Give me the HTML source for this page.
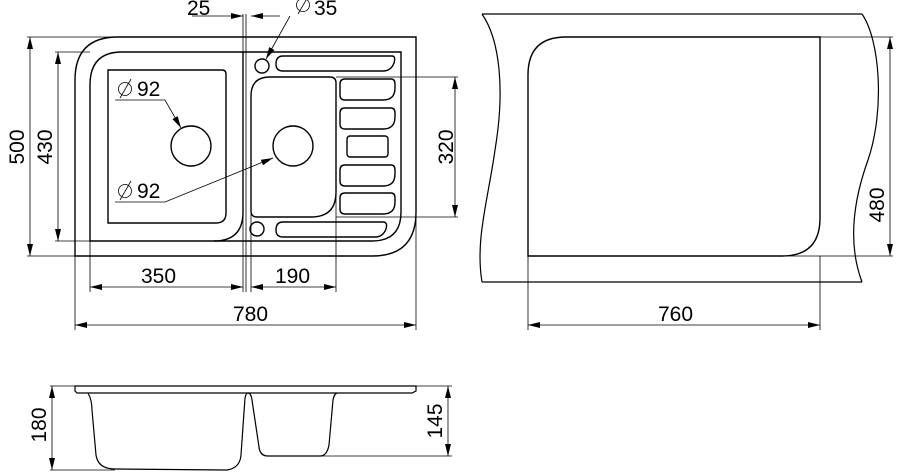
<!DOCTYPE html>
<html><head><meta charset="utf-8"><style>
html,body{margin:0;padding:0;background:#fff;}
svg{display:block;}
text{font-family:"Liberation Sans",Arial,sans-serif;font-size:21px;fill:#000;}
</style></head><body>
<svg width="900" height="476" viewBox="0 0 900 476" xmlns="http://www.w3.org/2000/svg">
<defs>
<marker id="a" viewBox="0 0 12 6" refX="12" refY="3" markerWidth="12" markerHeight="6" orient="auto-start-reverse" markerUnits="userSpaceOnUse"><path d="M0,0 L12,3 L0,6 Z" fill="#000"/></marker>
</defs>
<g fill="none" stroke="#000" stroke-width="1.4">
<path d="M75,256 L75,80 Q75,37 118,37 L416,37 L416,212 Q416,256 372,256 Z"/>
<path d="M90,241 L90,85 Q90,52 122,52 L401,52 L401,212 Q401,241 372,241 Z"/>
<path d="M243,52 L243,212 Q243,241 214,241"/>
<path d="M108,70 L222,70 Q226,70 226,74 L226,213 Q226,223 216,223 L108,223 Z"/>
<path d="M270,77 L330,77 Q336,77 336,83 L336,192 Q336,217 311,217 L257,217 Q251,217 251,211 L251,96 Q251,77 270,77 Z"/>
<circle cx="191" cy="146" r="20"/>
<circle cx="293" cy="146" r="20"/>
<circle cx="262" cy="66" r="7"/>
<circle cx="257" cy="229" r="7"/>
<path d="M283,56 L392,56 Q396,56 394,63 Q391,71 383,71 L283,71 Q276,71 276,64 Q276,56 283,56 Z"/>
<path d="M283,222 L383,222 Q388,222 386,229 Q383,237 375,237 L283,237 Q276,237 276,230 Q276,222 283,222 Z"/>
<path d="M345,79 L391,79 Q395,79 395,84 L395,88 Q395,100 383,100 L345,100 Q340,100 340,95 L340,84 Q340,79 345,79 Z"/>
<path d="M345,108 L391,108 Q395,108 395,113 L395,117 Q395,129 383,129 L345,129 Q340,129 340,124 L340,113 Q340,108 345,108 Z"/>
<rect x="347" y="136" width="41" height="21" rx="3"/>
<path d="M345,165 L391,165 Q395,165 395,170 L395,174 Q395,186 383,186 L345,186 Q340,186 340,181 L340,170 Q340,165 345,165 Z"/>
<path d="M345,193 L391,193 Q395,193 395,198 L395,202 Q395,214 383,214 L345,214 Q340,214 340,209 L340,198 Q340,193 345,193 Z"/>
</g>
<g fill="none" stroke="#000" stroke-width="0.8">
<line x1="27" y1="37" x2="118" y2="37"/>
<line x1="27" y1="256" x2="75" y2="256"/>
<line x1="55" y1="52" x2="90" y2="52"/>
<line x1="55" y1="241" x2="90" y2="241"/>
<line x1="75" y1="256" x2="75" y2="330"/>
<line x1="416" y1="37" x2="416" y2="330"/>
<line x1="90" y1="241" x2="90" y2="292"/>
<line x1="243" y1="14" x2="243" y2="292"/>
<line x1="246" y1="14" x2="246" y2="292"/>
<line x1="251" y1="211" x2="251" y2="292"/>
<line x1="336" y1="192" x2="336" y2="292"/>
<line x1="336" y1="77" x2="458" y2="77"/>
<line x1="336" y1="217" x2="458" y2="217"/>
<line x1="30" y1="37" x2="30" y2="256" marker-start="url(#a)" marker-end="url(#a)"/>
<line x1="58" y1="52" x2="58" y2="241" marker-start="url(#a)" marker-end="url(#a)"/>
<line x1="90" y1="287" x2="243" y2="287" marker-start="url(#a)" marker-end="url(#a)"/>
<line x1="251" y1="287" x2="336" y2="287" marker-start="url(#a)" marker-end="url(#a)"/>
<line x1="75" y1="325" x2="416" y2="325" marker-start="url(#a)" marker-end="url(#a)"/>
<line x1="455" y1="77" x2="455" y2="217" marker-start="url(#a)" marker-end="url(#a)"/>
<line x1="192" y1="16" x2="243" y2="16" marker-end="url(#a)"/>
<line x1="280" y1="16" x2="251" y2="16" marker-end="url(#a)"/>
<line x1="290" y1="16" x2="266" y2="59" marker-end="url(#a)"/>
<polyline points="115,100 165,100 181,128" marker-end="url(#a)"/>
<polyline points="115,202 165,202 273,158" marker-end="url(#a)"/>
<!-- diameter symbols -->
<circle cx="125" cy="89" r="6.5"/><line x1="120" y1="98" x2="131" y2="79"/>
<circle cx="125" cy="191" r="6.5"/><line x1="120" y1="200" x2="131" y2="181"/>
<circle cx="303" cy="5" r="6.5"/><line x1="298" y1="14" x2="309" y2="-5"/>
</g>
<g>
<text x="187" y="15">25</text>
<text x="314" y="15">35</text>
<text x="137" y="96">92</text>
<text x="137" y="198">92</text>
<text x="141" y="283">350</text>
<text x="275" y="283">190</text>
<text x="233" y="321">780</text>
<text transform="translate(24,147) rotate(-90)" text-anchor="middle">500</text>
<text transform="translate(52,147) rotate(-90)" text-anchor="middle">430</text>
<text transform="translate(453,147) rotate(-90)" text-anchor="middle">320</text>
</g>
<g fill="none" stroke="#000" stroke-width="1.2">
<line x1="482" y1="14" x2="862" y2="14"/>
<line x1="482" y1="282" x2="862" y2="282"/>
<path d="M482,14 C500,40 505,90 495,150 C488,200 475,240 482,282"/>
<path d="M862,14 C880,40 885,110 868,160 C850,210 850,250 862,282"/>
<path d="M528,256 L528,75 Q528,37 566,37 L820,37 L820,218 Q820,256 782,256 Z" stroke-width="1.4"/>
</g>
<g fill="none" stroke="#000" stroke-width="0.8">
<line x1="820" y1="37" x2="893" y2="37"/>
<line x1="782" y1="256" x2="893" y2="256"/>
<line x1="528" y1="256" x2="528" y2="330"/>
<line x1="820" y1="256" x2="820" y2="330"/>
<line x1="890" y1="37" x2="890" y2="256" marker-start="url(#a)" marker-end="url(#a)"/>
<line x1="528" y1="325" x2="820" y2="325" marker-start="url(#a)" marker-end="url(#a)"/>
</g>
<text x="658" y="321">760</text>
<text transform="translate(884,205) rotate(-90)" text-anchor="middle">480</text>
<g fill="none" stroke="#000" stroke-width="1.2">
<path d="M75,386 L416,386 L416,391 L412,393 L77,393 L75,391 Z"/>
<path d="M88,393 Q92,400 92,410 L96,455 Q98,469 115,469 L227,470 Q240,468 241,455 L245,398 Q246,393 248,393 Q251,393 252,400 L259,447 Q260,456 268,456 L320,456 Q327,456 329,445 L333,400 Q334,394 337,393"/>
</g>
<g fill="none" stroke="#000" stroke-width="0.8">
<line x1="50" y1="386" x2="75" y2="386"/>
<line x1="50" y1="470" x2="115" y2="470"/>
<line x1="416" y1="386" x2="452" y2="386"/>
<line x1="320" y1="456" x2="452" y2="456"/>
<line x1="52" y1="386" x2="52" y2="470" marker-start="url(#a)" marker-end="url(#a)"/>
<line x1="448" y1="386" x2="448" y2="456" marker-start="url(#a)" marker-end="url(#a)"/>
</g>
<text transform="translate(46,425) rotate(-90)" text-anchor="middle">180</text>
<text transform="translate(442,421) rotate(-90)" text-anchor="middle">145</text>
</svg>
</body></html>
